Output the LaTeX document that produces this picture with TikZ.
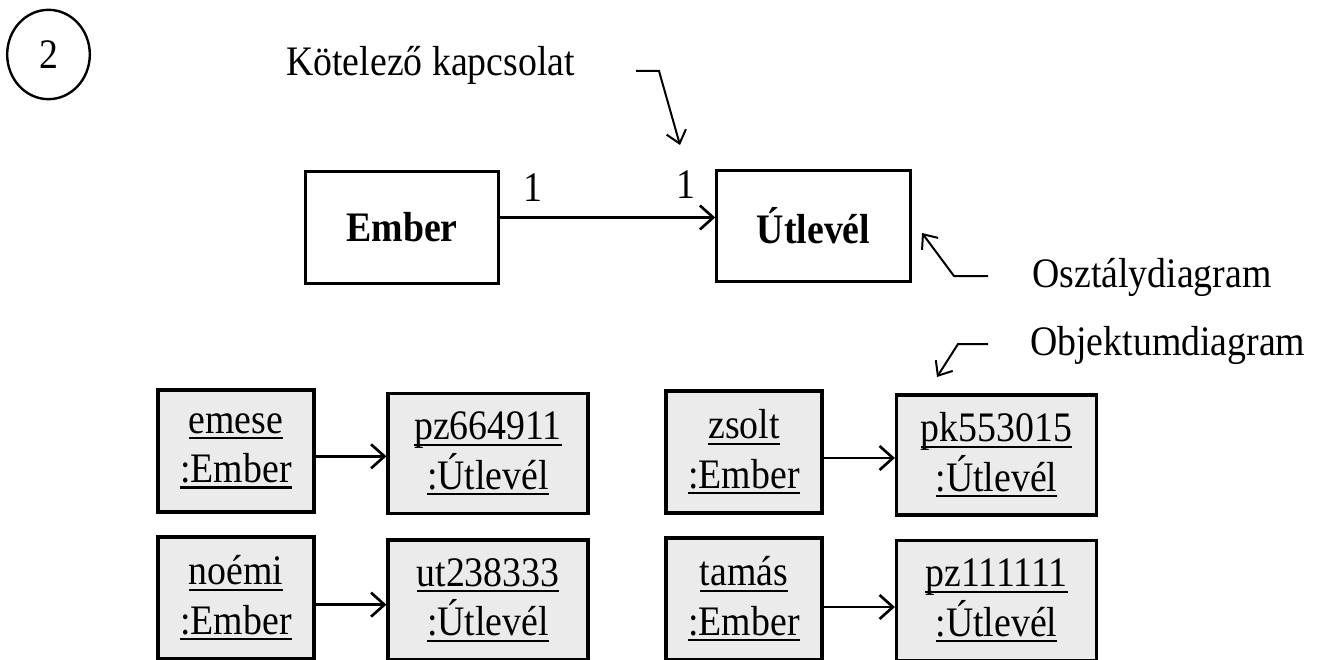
\documentclass[tikz,border=0pt]{standalone}
\usepackage{fontspec}
\setmainfont{Liberation Serif}[FakeStretch=0.9]
\usetikzlibrary{arrows.meta,shapes.geometric}
\definecolor{objfill}{HTML}{EBEBEB}
\newcommand{\myul}[1]{\setbox0\hbox{#1}\rlap{\rule[-4.5pt]{\wd0}{1.6pt}}\box0}
\begin{document}
\begin{tikzpicture}[x=0.75pt,y=-0.75pt,
  every node/.style={font=\fontsize{31.5}{37}\selectfont, inner sep=0pt},
  cls/.style={draw, line width=2.4pt, minimum width=145pt, minimum height=83.5pt},
  objE/.style={draw, line width=2.4pt, fill=objfill, align=center, minimum width=117pt, minimum height=91.5pt},
  objU/.style={draw, line width=2.4pt, fill=objfill, align=center, minimum width=150pt, minimum height=90pt},
  conn/.style={line width=2pt, -{Straight Barb[length=10pt,width=18pt,line width=2pt]}},
  note/.style={line width=1.5pt, -{Straight Barb[length=9pt,width=15pt,line width=1.5pt]}}
]
\useasboundingbox (0,0) rectangle (1325,660);

% circled number
\node[draw, ellipse, line width=1.8pt, minimum width=62pt, minimum height=67pt] (num) at (48.5,54.5) {};
\node at (num.center) {2};

% class diagram
\node[cls] (ember) at (402,227.5) {\textbf{Ember}};
\node[cls] (utlevel) at (813.5,226) {\textbf{Útlevél}};
\draw[conn] ([yshift=7.5pt]ember.east) -- ([yshift=7.5pt]ember.east -| utlevel.west);
\node (m1) at (533,188) {1};
\node (m2) at (686,185) {1};

% annotations
\node[anchor=base west] (kot) at (286,76) {Kötelező kapcsolat};
\coordinate (k1) at (636,71);
\coordinate (k2) at (659,71);
\coordinate (k3) at (680,145);
\draw[note] (k1) -- (k2) -- (k3);

\node[anchor=base west] (osz) at (1032,287) {Osztálydiagram};
\coordinate (o1) at (988,276);
\coordinate (o2) at (954,276);
\coordinate (o3) at (922,233);
\draw[note] (o1) -- (o2) -- (o3);

\node[anchor=base west] (obj) at (1030,355) {Objektumdiagram};
\coordinate (b1) at (988,344);
\coordinate (b2) at (958,344);
\coordinate (b3) at (937,377);
\draw[note] (b1) -- (b2) -- (b3);

% object diagram
\node[objE] (emese) at (236,451) {\myul{emese}\\\myul{:Ember}};
\node[objU] (pz6) at (488,453.5) {\myul{pz664911}\\\myul{:Útlevél}};
\node[objE] (noemi) at (236,598) {\myul{noémi}\\\myul{:Ember}};
\node[objU] (ut2) at (488,600) {\myul{ut238333}\\\myul{:Útlevél}};
\node[objE] (zsolt) at (744,452) {\myul{zsolt}\\\myul{:Ember}};
\node[objU] (pk5) at (996.5,455) {\myul{pk553015}\\\myul{:Útlevél}};
\node[objE] (tamas) at (744,599) {\myul{tamás}\\\myul{:Ember}};
\node[objU] (pz1) at (996.5,600.5) {\myul{pz111111}\\\myul{:Útlevél}};

\draw[conn] ([yshift=-4pt]emese.east) -- ([yshift=-4pt]emese.east -| pz6.west);
\draw[conn] ([yshift=-5pt]noemi.east) -- ([yshift=-5pt]noemi.east -| ut2.west);
\draw[conn] ([yshift=-4.5pt]zsolt.east) -- ([yshift=-4.5pt]zsolt.east -| pk5.west);
\draw[conn] ([yshift=-6pt]tamas.east) -- ([yshift=-6pt]tamas.east -| pz1.west);
\end{tikzpicture}
\end{document}
